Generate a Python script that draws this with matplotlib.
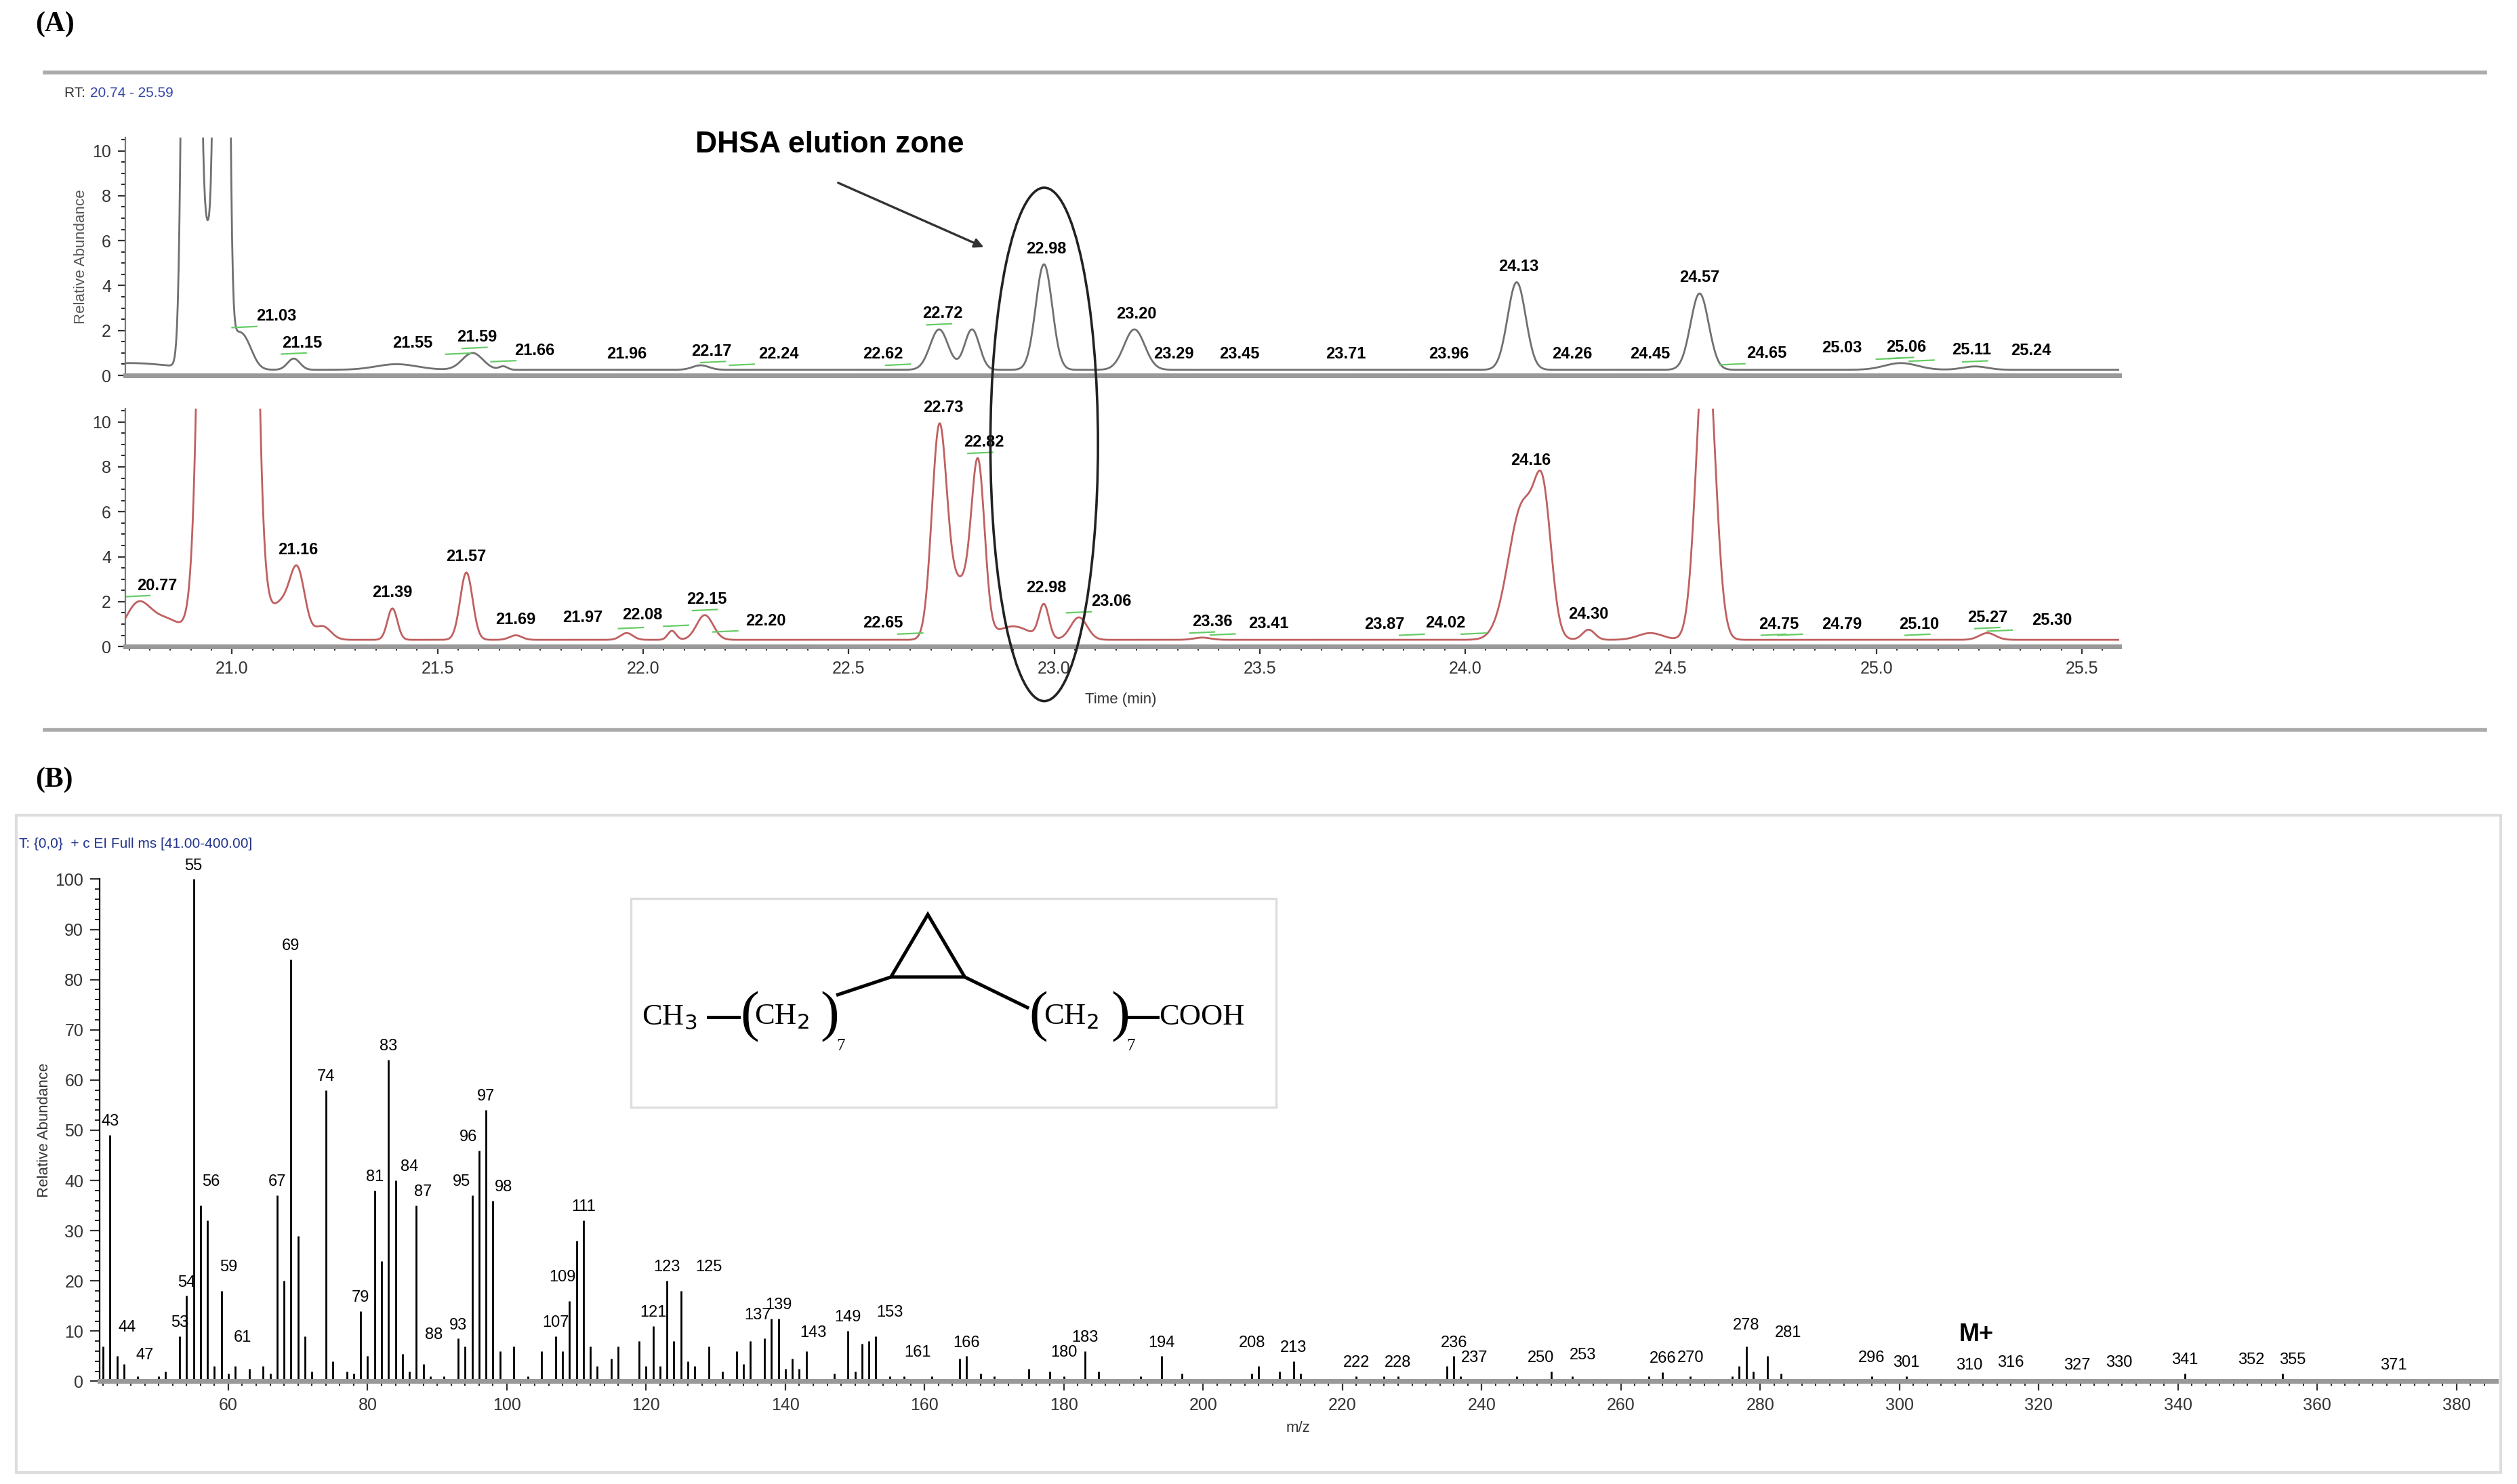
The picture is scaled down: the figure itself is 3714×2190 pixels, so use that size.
import numpy as np
import matplotlib.pyplot as plt
from matplotlib.patches import Ellipse, Rectangle, Polygon
from matplotlib.ticker import MultipleLocator

# ---- chromatogram peaks: (rt, height, sigma) ----
top_peaks = [(20.75, 0.3, 0.1), (20.90, 100, 0.012), (20.94, 6, 0.02), (20.975, 100, 0.01),
             (21.0, 1.0, 0.02), (21.03, 1.2, 0.02), (21.15, 0.5, 0.015), (21.40, 0.25, 0.05),
             (21.585, 0.75, 0.025), (21.66, 0.15, 0.01), (22.14, 0.2, 0.02), (22.72, 1.8, 0.022),
             (22.80, 1.8, 0.018), (22.975, 4.7, 0.02), (23.195, 1.8, 0.025), (24.125, 3.9, 0.022),
             (24.57, 3.4, 0.022), (25.06, 0.3, 0.04), (25.24, 0.15, 0.03)]
top_base = 0.25
top_labels = [21.03, 21.15, 21.55, 21.59, 21.66, 21.96, 22.17, 22.24, 22.62, 22.72, 22.98, 23.20,
              23.29, 23.45, 23.71, 23.96, 24.13, 24.26, 24.45, 24.57, 24.65, 25.03, 25.06, 25.11, 25.24]
# label x positions where the labels are pushed apart (display px)
top_label_px = {21.03: 172, 21.15: 188, 21.55: 257, 21.59: 297, 21.66: 333, 22.17: 443,
                22.24: 485, 22.62: 550, 22.72: 587, 25.03: 1147, 25.06: 1187, 25.11: 1228,
                25.24: 1265, 24.65: 1100}

bot_peaks = [(20.77, 1.5, 0.03), (20.84, 0.9, 0.04), (20.99, 300, 0.03), (21.12, 1.6, 0.03),
             (21.16, 2.6, 0.018), (21.22, 0.6, 0.02), (21.39, 1.4, 0.012), (21.57, 3.0, 0.015),
             (21.69, 0.2, 0.015), (21.96, 0.3, 0.015), (22.07, 0.4, 0.01), (22.15, 1.1, 0.02),
             (22.72, 9.0, 0.018), (22.77, 2.5, 0.03), (22.815, 7.2, 0.016), (22.9, 0.6, 0.04),
             (22.975, 1.5, 0.012), (23.06, 1.0, 0.02), (23.36, 0.1, 0.02), (24.14, 6.0, 0.035),
             (24.19, 5.0, 0.02), (24.30, 0.45, 0.015), (24.45, 0.3, 0.03), (24.585, 14, 0.022),
             (25.27, 0.3, 0.02)]
bot_base = 0.3
bot_labels = [20.77, 21.16, 21.39, 21.57, 21.69, 21.97, 22.08, 22.15, 22.20, 22.65, 22.73, 22.82,
              22.98, 23.06, 23.36, 23.41, 23.87, 24.02, 24.16, 24.30, 24.75, 24.79, 25.10, 25.27, 25.30]
bot_label_px = {20.77: 98, 21.97: 363, 22.08: 400, 22.15: 440, 22.20: 477, 22.65: 550,
                22.82: 613, 23.06: 692, 23.36: 755, 23.41: 790, 23.87: 862, 24.02: 900,
                24.75: 1108, 24.79: 1147, 25.10: 1195, 25.27: 1238, 25.30: 1278}

# ---- mass spectrum sticks ----
mz = [42, 43, 44, 45, 47, 50, 51, 53, 54, 55, 56, 57, 58, 59, 60, 61, 63, 65, 66, 67, 68, 69, 70, 71,
      72, 74, 75, 77, 78, 79, 80, 81, 82, 83, 84, 85, 86, 87, 88, 89, 91, 93, 94, 95, 96, 97, 98, 99,
      101, 103, 105, 107, 108, 109, 110, 111, 112, 113, 115, 116, 119, 120, 121, 122, 123, 124, 125,
      126, 127, 129, 131, 133, 134, 135, 137, 138, 139, 140, 141, 142, 143, 147, 149, 150, 151, 152,
      153, 155, 157, 161, 165, 166, 168, 170, 175, 178, 180, 183, 185, 191, 194, 197, 207, 208, 211,
      213, 214, 222, 226, 228, 235, 236, 237, 245, 250, 253, 264, 266, 270, 276, 277, 278, 279, 281,
      283, 296, 301, 303, 310, 316, 327, 330, 341, 352, 355, 371]
inten = [7, 49, 5, 3.5, 1, 1, 2, 9, 17, 100, 35, 32, 3, 18, 1.5, 3, 2.5, 3, 1.5, 37, 20, 84, 29, 9,
         2, 58, 4, 2, 1.5, 14, 5, 38, 24, 64, 40, 5.5, 2, 35, 3.5, 1, 1, 8.5, 7, 37, 46, 54, 36, 6,
         7, 1, 6, 9, 6, 16, 28, 32, 7, 3, 4.5, 7, 8, 3, 11, 3, 20, 8, 18, 4, 3, 7, 2, 6, 3.5, 8, 8.5,
         12.5, 12.5, 2.5, 4.5, 2.5, 6, 1.5, 10, 2, 7.5, 8, 9, 1, 1, 1, 4.5, 5, 1.5, 1, 2.5, 2, 1, 6, 2,
         1, 5, 1.5, 1.5, 3, 2, 4, 1.5, 1, 1, 1, 3, 5, 1, 1, 2, 1, 1, 1.8, 1, 1, 3, 7, 2, 5, 1.5, 1,
         1, 0.5, 0.5, 0.5, 0.5, 0.5, 1.5, 0.5, 1.5, 0.5]
ms_labels = [43, 44, 47, 53, 54, 55, 56, 59, 61, 67, 69, 74, 79, 81, 83, 84, 87, 88, 93, 95, 96, 97,
             98, 107, 109, 111, 121, 123, 125, 137, 139, 143, 149, 153, 161, 166, 180, 183, 194, 208,
             213, 222, 228, 236, 237, 250, 253, 266, 270, 278, 281, 296, 301, 310, 316, 327, 330, 341,
             352, 355, 371]
ms_label_dx = {44: 1.5, 47: 1, 56: 1.5, 59: 1, 61: 1, 84: 2, 87: 1, 88: 1.5, 95: -1.5, 96: -1.5,
               98: 1.5, 109: -1, 125: 4, 137: -1, 143: 1, 153: 2, 161: -2, 208: -1, 237: 2,
               250: -1.5, 253: 1.5, 281: 3, 327: -1.5, 330: 1.5, 352: -1.5, 355: 1.5}
ms_label_dy = {44: 3, 47: 1.5, 56: 2, 59: 2, 61: 3, 88: 3, 109: 2, 125: 2, 137: 2, 143: 1,
               153: 2, 161: 2, 180: 2, 208: 2, 237: 1, 253: 1.5, 270: 1, 278: 1.5, 281: 2, 296: 1,
               316: 0.5, 330: 0.5, 352: 1}

W, H = 1568.0, 925.0
def fx(p): return p / W
def fy(p): return 1 - p / H
def px2rt(p): return 20.74 + (p - 78) / 256.0

plt.rcParams['font.family'] = ['Liberation Sans', 'DejaVu Sans']
fig = plt.figure(figsize=(18.57, 10.95), dpi=200)

def trace(t, peaks, base):
    y = np.full_like(t, base)
    for c, h, s in peaks:
        y += h * np.exp(-0.5 * ((t - c) / s) ** 2)
    return y

t = np.arange(20.74, 25.59, 0.002)
ax_h = fy(85.6) - fy(234)
axes = []
for y0, peaks, base, labels, lpx, col in [
        (234, top_peaks, top_base, top_labels, top_label_px, '#707070'),
        (403, bot_peaks, bot_base, bot_labels, bot_label_px, '#c06060')]:
    ax = fig.add_axes([fx(78), fy(y0), fx(1320) - fx(78), ax_h])
    y = trace(t, peaks, base)
    ax.plot(t, y, color=col, lw=1.0)
    ax.set_xlim(20.74, 25.59)
    ax.set_ylim(0, 10.6)
    for s in ['top', 'right']:
        ax.spines[s].set_visible(False)
    ax.spines['bottom'].set_color('#999999')
    ax.spines['bottom'].set_linewidth(2.5)
    ax.spines['left'].set_color('#777777')
    ax.yaxis.set_major_locator(MultipleLocator(2))
    ax.yaxis.set_minor_locator(MultipleLocator(0.5))
    ax.xaxis.set_major_locator(MultipleLocator(0.5))
    ax.xaxis.set_minor_locator(MultipleLocator(0.05))
    ax.tick_params(labelsize=9, colors='#333333', length=4)
    ax.tick_params(which='minor', length=2)
    for rt in labels:
        yy = y[np.abs(t - rt) < 0.012].max()
        lx = px2rt(lpx[rt]) if rt in lpx else rt
        ax.text(lx, min(yy, 10) + 0.35, '%.2f' % rt, ha='center', va='bottom',
                fontsize=8.5, fontweight='bold')
        if rt in lpx:
            ax.plot([rt - 0.03, rt + 0.03], [yy + 0.2, yy + 0.25], color='#66cc66', lw=0.8)
    axes.append(ax)
axes[0].tick_params(axis='x', labelbottom=False, length=0, which='both')
axes[0].set_ylabel('Relative Abundance', fontsize=8, color='#555555', labelpad=2)
fig.text(fx(698), fy(436), 'Time (min)', fontsize=8, ha='center', va='center', color='#333333')

# headers, separators, annotation
fig.text(fx(22), fy(15), '(A)', fontsize=15, fontweight='bold', va='center',
         family=['Liberation Serif', 'DejaVu Serif'])
fig.text(fx(22), fy(486), '(B)', fontsize=15, fontweight='bold', va='center',
         family=['Liberation Serif', 'DejaVu Serif'])
for yl in (45, 455):
    fig.add_artist(plt.Line2D([fx(28), fx(1548)], [fy(yl), fy(yl)], color='#aaaaaa', lw=2))
fig.text(fx(40), fy(58), 'RT: ', fontsize=7.5, va='center', color='#333333')
fig.text(fx(56), fy(58), '20.74 - 25.59', fontsize=7.5, va='center', color='#3344aa')
fig.text(fx(517), fy(90), 'DHSA elution zone', fontsize=16, fontweight='bold', ha='center',
         va='center')
fig.add_artist(plt.Annotation('', xy=(fx(615), fy(155)), xytext=(fx(520), fy(113)),
                              xycoords='figure fraction',
                              arrowprops=dict(arrowstyle='-|>', color='#333333', lw=1.2)))
fig.add_artist(Ellipse((fx(650.5), fy(277)), fx(67), 320 / H, transform=fig.transFigure,
                       fill=False, edgecolor='#222222', lw=1.3))

# ---- panel B ----
fig.add_artist(Rectangle((fx(10), fy(918)), fx(1548), 410 / H, transform=fig.transFigure,
                         fill=False, edgecolor='#dddddd', lw=1.5))
fig.text(fx(12), fy(526), 'T: {0,0}  + c EI Full ms [41.00-400.00]', fontsize=7.5, va='center',
         color='#22338a')
ax = fig.add_axes([fx(62), fy(861), fx(1555) - fx(62), fy(548) - fy(861)])
ax.vlines(mz, 0, inten, color='black', lw=1.0)
ax.set_xlim(41.5, 385.7)
ax.set_ylim(0, 100)
for s in ['top', 'right']:
    ax.spines[s].set_visible(False)
ax.spines['bottom'].set_color('#999999')
ax.spines['bottom'].set_linewidth(2.5)
ax.xaxis.set_major_locator(MultipleLocator(20))
ax.xaxis.set_minor_locator(MultipleLocator(2))
ax.yaxis.set_major_locator(MultipleLocator(10))
ax.yaxis.set_minor_locator(MultipleLocator(2))
ax.tick_params(labelsize=9, colors='#333333', length=5)
ax.tick_params(which='minor', length=2.5)
ax.set_ylabel('Relative Abundance', fontsize=8, color='#333333', labelpad=2)
ax.set_xlabel('m/z', fontsize=8, color='#333333')
lookup = dict(zip(mz, inten))
for m in ms_labels:
    v = lookup.get(m, 0.5)
    ax.text(m + ms_label_dx.get(m, 0), v + 1.2 + ms_label_dy.get(m, 0), str(m), ha='center',
            va='bottom', fontsize=8.5, clip_on=False)
ax.text(311, 7, 'M+', fontsize=13, fontweight='bold', ha='center', va='bottom')

# structure inset
fig.add_artist(Rectangle((fx(393), fy(690)), fx(402), 130 / H, transform=fig.transFigure,
                         fill=False, edgecolor='#dddddd', lw=1.2))
serif = ['Liberation Serif', 'DejaVu Serif']
yc = fy(634)
fig.text(fx(400), yc, 'CH$_3$', fontsize=16, va='center', family=serif)
fig.text(fx(470), yc, 'CH$_2$', fontsize=16, va='center', family=serif)
fig.text(fx(650), yc, 'CH$_2$', fontsize=16, va='center', family=serif)
fig.text(fx(722), yc, 'COOH', fontsize=16, va='center', family=serif)
for xp, ch in ((461, '('), (511, ')'), (641, '('), (692, ')')):
    fig.text(fx(xp), yc, ch, fontsize=30, va='center', family=serif, fontweight='light')
fig.text(fx(521), fy(652), '7', fontsize=9, va='center', family=serif)
fig.text(fx(702), fy(652), '7', fontsize=9, va='center', family=serif)
for seg in [((441, 460), (634, 634)), ((703, 721), (634, 634)),
            ((522, 555), (620, 609)), ((601, 640), (609, 628))]:
    fig.add_artist(plt.Line2D([fx(seg[0][0]), fx(seg[0][1])], [fy(seg[1][0]), fy(seg[1][1])],
                              color='black', lw=1.8))
fig.add_artist(Polygon([(fx(555), fy(609)), (fx(601), fy(609)), (fx(578), fy(570))],
                       closed=True, fill=False, edgecolor='black', lw=1.8,
                       transform=fig.transFigure))

fig.savefig('out.png', dpi=200)
